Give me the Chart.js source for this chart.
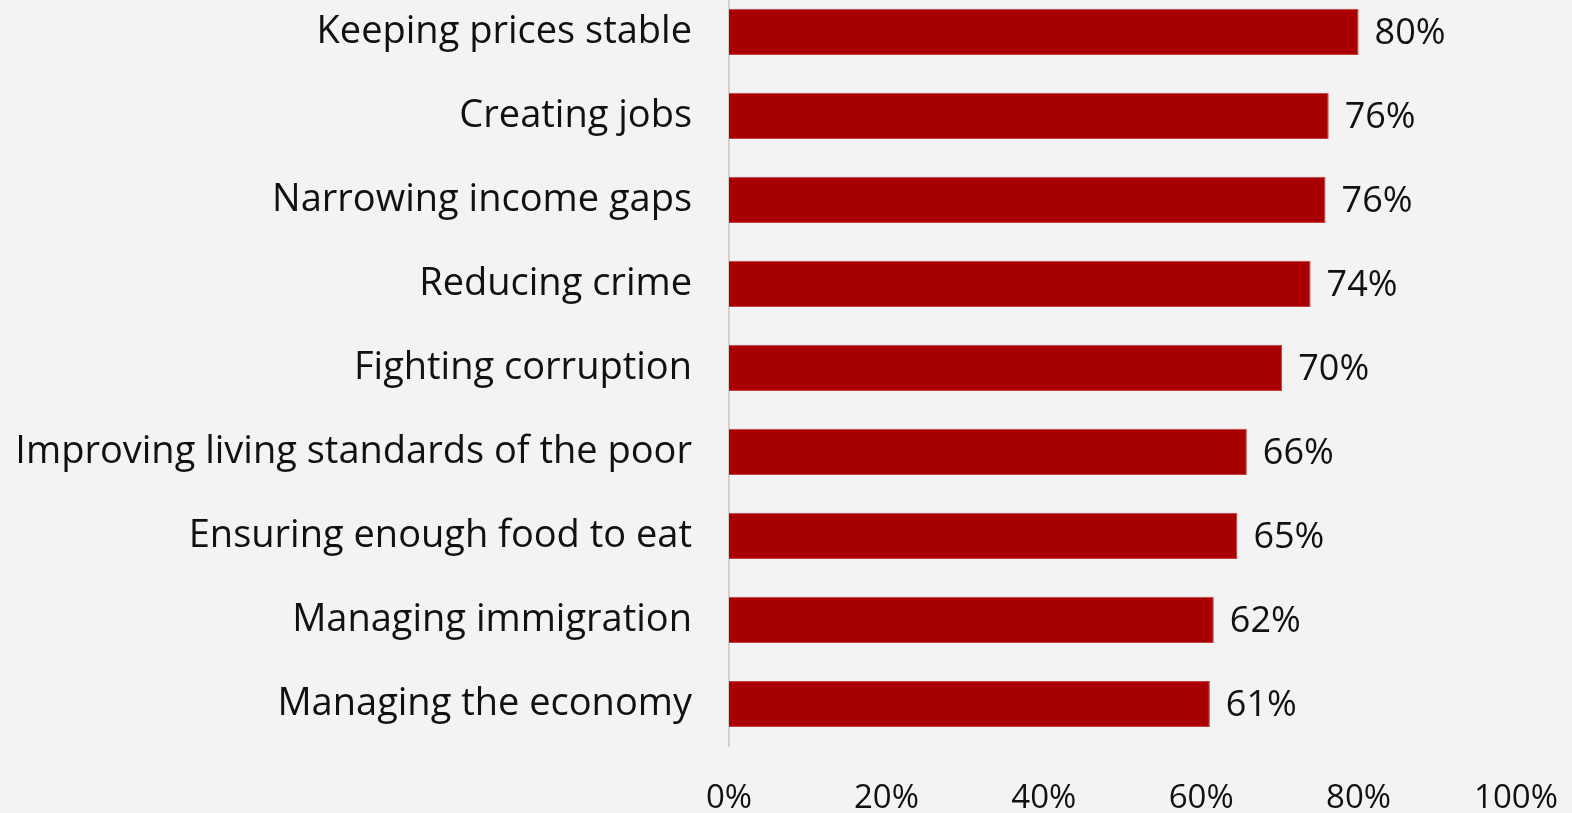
<!DOCTYPE html>
<html>
<head>
<meta charset="utf-8">
<script src="https://cdn.jsdelivr.net/npm/chart.js@4"></script>
<style>
  html, body { margin: 0; padding: 0; background: #f3f3f3; overflow: hidden; }
  #wrap { position: absolute; left: 0; top: -33px; width: 1572px; height: 846px; }
</style>
</head>
<body>
<div id="wrap"><canvas id="priorityChart"></canvas></div>
<script>
// categories, top to bottom
const categories = [
    'Keeping prices stable',
    'Creating jobs',
    'Narrowing income gaps',
    'Reducing crime',
    'Fighting corruption',
    'Improving living standards of the poor',
    'Ensuring enough food to eat',
    'Managing immigration',
    'Managing the economy'
];
// share of respondents (%)
const shares = [80, 76.2, 75.8, 73.9, 70.3, 65.8, 64.6, 61.6, 61.1];
const xTicks = [0, 20, 40, 60, 80, 100];

const fontFamily = "'Open Sans', 'DejaVu Sans', sans-serif";

// value labels at the end of each bar
const barLabels = {
    id: 'barLabels',
    afterDatasetsDraw(chart) {
        const ctx = chart.ctx;
        const meta = chart.getDatasetMeta(0);
        ctx.save();
        ctx.font = "36px " + fontFamily;
        ctx.fillStyle = '#111';
        ctx.textAlign = 'left';
        ctx.textBaseline = 'middle';
        meta.data.forEach(function(bar, i) {
            ctx.fillText(Math.round(shares[i]) + '%', bar.x + 16, bar.y + 2);
        });
        ctx.restore();
    }
};

document.addEventListener("DOMContentLoaded", function() {
    const ctx = document.getElementById("priorityChart").getContext("2d");

    new Chart(ctx, {
        type: 'bar',
        data: {
            labels: categories,
            datasets: [{
                data: shares,
                backgroundColor: '#a80000',
                borderColor: '#c04040',
                borderWidth: 1,
                categoryPercentage: 1,
                barPercentage: 0.55
            }]
        },
        plugins: [barLabels],
        options: {
            indexAxis: 'y',
            responsive: true,
            maintainAspectRatio: false,
            animation: false,
            layout: { padding: { left: 0, right: 56, top: 0, bottom: 0 } },
            plugins: {
                legend: { display: false },
                tooltip: { enabled: false }
            },
            scales: {
                x: {
                    min: 0,
                    max: 100,
                    afterBuildTicks: function(scale) {
                        scale.ticks = xTicks.map(function(v) { return { value: v }; });
                    },
                    afterFit: function(scale) {
                        scale.height = 67;
                        scale.paddingLeft = 0;
                        scale.paddingRight = 0;
                    },
                    grid: { display: false, drawTicks: false },
                    border: { display: false },
                    ticks: {
                        padding: 33,
                        color: '#111',
                        font: { family: fontFamily, size: 33 },
                        callback: function(v) { return v + '%'; }
                    }
                },
                y: {
                    afterFit: function(scale) { scale.width = 729; },
                    grid: { display: false, drawTicks: true, tickLength: 37, tickColor: 'rgba(0,0,0,0)' },
                    border: { display: true, color: '#d0d0d0', width: 2 },
                    ticks: {
                        padding: 0,
                        color: '#111',
                        font: { family: fontFamily, size: 38 }
                    }
                }
            }
        }
    });
});
</script>
</body>
</html>
